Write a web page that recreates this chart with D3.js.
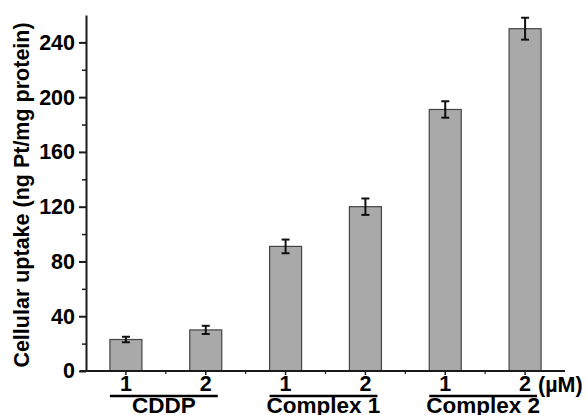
<!DOCTYPE html>
<html lang="en">
<head>
    <meta charset="UTF-8">
    <title>Cellular uptake</title>
    <script src="https://d3js.org/d3.v7.min.js"></script>
    <style>
        body { margin: 0; background: #fff; }
        text { font-family: "Liberation Sans", Arial, sans-serif; font-weight: bold; fill: #000; }
        .axis path, .axis line { stroke: #1a1a1a; }
        .bar { fill: #a9a9a9; stroke: #444; stroke-width: 1.2; }
        .err { stroke: #111; stroke-width: 2; }
    </style>
</head>
<body>
    <script>
        // Data
        const groups = ["CDDP", "Complex 1", "Complex 2"];
        const doses = ["1", "2"];
        const uptake = [23, 30, 91, 120, 191, 250];
        const errors = [2, 3, 5, 6, 6, 8];
        const yTicks = [0, 40, 80, 120, 160, 200, 240];

        const width = 587, height = 415;
        const margin = {top: 15, right: 22, bottom: 44, left: 86};

        const svg = d3.select("body")
            .append("svg")
            .attr("width", width)
            .attr("height", height);

        // one band per bar, grouped by compound
        const keys = [];
        groups.forEach(g => doses.forEach(d => keys.push(g + "|" + d)));
        const data = keys.map((k, i) => ({key: k, group: k.split("|")[0], dose: k.split("|")[1], v: uptake[i], e: errors[i]}));

        const x = d3.scaleBand()
            .domain(keys)
            .range([margin.left, width - margin.right])
            .padding(0);

        const y = d3.scaleLinear()
            .domain([0, 260])
            .range([height - margin.bottom, margin.top]);

        const barW = 32;
        const cx = k => x(k) + x.bandwidth() / 2;

        // Y axis with minor ticks
        svg.append("g")
            .attr("class", "axis")
            .attr("transform", `translate(${margin.left},0)`)
            .call(d3.axisLeft(y).tickValues(d3.range(20, 260, 40)).tickSize(4).tickFormat(""))
            .call(g => g.select(".domain").remove())
            .selectAll("line").attr("stroke-width", 1.5);

        const yAxis = svg.append("g")
            .attr("class", "axis")
            .attr("transform", `translate(${margin.left},0)`)
            .call(d3.axisLeft(y).tickValues(yTicks).tickSize(7).tickSizeOuter(0).tickPadding(4));
        yAxis.select(".domain").attr("stroke-width", 2);
        yAxis.selectAll(".tick line").attr("stroke-width", 2);
        yAxis.selectAll("text").attr("font-size", 21.5).attr("fill", "#000");

        // Bars
        svg.selectAll(".bar")
            .data(data)
            .join("rect")
            .attr("class", "bar")
            .attr("x", d => cx(d.key) - barW / 2)
            .attr("y", d => y(d.v))
            .attr("width", barW)
            .attr("height", d => y(0) - y(d.v));

        // Error bars
        const eb = svg.selectAll(".eb")
            .data(data)
            .join("g")
            .attr("class", "err");
        eb.append("line")
            .attr("x1", d => cx(d.key)).attr("x2", d => cx(d.key))
            .attr("y1", d => y(d.v + d.e)).attr("y2", d => y(d.v - d.e));
        eb.append("line")
            .attr("x1", d => cx(d.key) - 4).attr("x2", d => cx(d.key) + 4)
            .attr("y1", d => y(d.v + d.e)).attr("y2", d => y(d.v + d.e));
        eb.append("line")
            .attr("x1", d => cx(d.key) - 4).attr("x2", d => cx(d.key) + 4)
            .attr("y1", d => y(d.v - d.e)).attr("y2", d => y(d.v - d.e));

        // X axis: dose labels at bar centres, small ticks between
        const xAxis = svg.append("g")
            .attr("class", "axis")
            .attr("transform", `translate(0,${y(0)})`)
            .call(d3.axisBottom(x).tickSize(4).tickSizeOuter(0).tickPadding(1).tickFormat(k => k.split("|")[1]));
        xAxis.select(".domain").attr("stroke-width", 2).attr("d", `M${margin.left - 6},0H${width - margin.right}`);
        xAxis.selectAll(".tick line").attr("stroke-width", 1.5);
        xAxis.selectAll("text").attr("font-size", 21.5).attr("fill", "#000");

        xAxis.selectAll(".minor")
            .data(keys.slice(1))
            .join("line")
            .attr("x1", k => x(k)).attr("x2", k => x(k))
            .attr("y1", 0).attr("y2", 3)
            .attr("stroke", "#555").attr("stroke-width", 1.2);

        // unit label
        svg.append("text")
            .attr("x", 538)
            .attr("y", 392)
            .attr("font-size", 21.5)
            .text("(\u00b5M)");

        // group brackets and names
        groups.forEach(g => {
            const k1 = g + "|1", k2 = g + "|2";
            const x1 = cx(k1) - 16, x2 = cx(k2) + 12;
            svg.append("line")
                .attr("x1", x1).attr("x2", x2)
                .attr("y1", 396).attr("y2", 396)
                .attr("stroke", "#000").attr("stroke-width", 2.5);
            svg.append("text")
                .attr("x", (x1 + x2) / 2)
                .attr("y", 413)
                .attr("text-anchor", "middle")
                .attr("font-size", 22.5)
                .text(g);
        });

        // y label
        svg.append("text")
            .attr("transform", `translate(29,${(y(0) + y(260)) / 2 + 2}) rotate(-90)`)
            .attr("text-anchor", "middle")
            .attr("font-size", 21.5)
            .text("Cellular uptake (ng Pt/mg protein)");
    </script>
</body>
</html>
